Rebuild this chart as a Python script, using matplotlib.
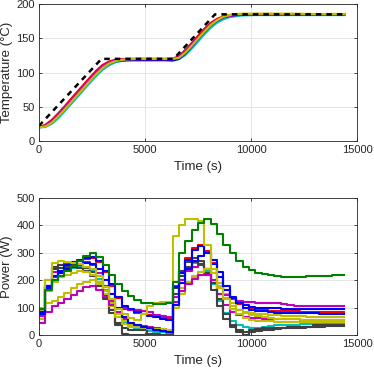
import numpy as np
import matplotlib.pyplot as plt

plt.rcParams['font.family'] = ['Liberation Sans', 'DejaVu Sans']

# ---- temperature data (s, degC)
t_temp = [0, 300, 600, 900, 1200, 1500, 1800, 2100, 2400, 2700, 3000, 3300, 3600, 3900, 4200,
          4800, 5400, 6000, 6300, 6600, 6900, 7200, 7500, 7800, 8100, 8400, 8700, 9000, 9300,
          9600, 10200, 11000, 12000, 13000, 14400]
temp_red = [20, 23.5, 30.5, 40, 50, 61, 71.5, 82, 92.5, 102.5, 111, 116, 118.5, 119.5, 120, 120, 120, 120,
            120, 124, 133, 143, 153.5, 164, 172.5, 178.5, 182, 184, 184.5, 185, 185.5, 185.5, 185, 185, 185]
temp_magenta = [20, 22.5, 29, 38.5, 48.5, 59, 69.5, 80, 90.5, 100.5, 109.5, 115, 118, 119, 119.5, 119.5, 119.5, 119.5,
                119.5, 122.5, 131, 141, 151.5, 162, 171, 177, 181, 183, 184, 184.5, 185, 185, 185, 185, 185]
temp_blue = [20, 21.5, 27, 36, 46, 56.5, 67, 77.5, 88, 98, 107, 113, 116.5, 117.5, 118, 118, 118, 118,
             117.5, 120, 128, 138, 149, 159.5, 169, 176, 180.5, 183, 184, 184.5, 185, 185, 185, 185, 185]
temp_cyan = [20, 20.5, 25, 33, 43, 53.5, 64, 74.5, 85, 95, 104, 110.5, 115, 117, 118, 118.5, 119, 119,
             119, 119.5, 125.5, 135, 145.5, 156, 165.5, 173, 178, 181, 182.5, 183.5, 184, 184, 184, 184, 184]
temp_yellow = [20, 21, 26.5, 35.5, 45.5, 56, 66.5, 77, 87.5, 97.5, 106.5, 113, 116.5, 118.5, 119.5, 120, 120, 120,
               120, 121.5, 129, 139, 149.5, 160, 169.5, 176.5, 181.5, 184, 185.5, 186, 186, 186, 186, 185.5, 185.5]

# setpoint profile
t_set = [0, 2950, 6350, 8300, 14400]
temp_set = [22, 120, 120, 185, 185]

# ---- power data (W), one value every 300 s from 0 to 14400
t_pow = list(range(0, 14401, 300))
p_green = [95, 165, 200, 215, 232, 252, 272, 288, 298, 285, 255, 220, 188, 162, 142, 127, 118, 115, 112, 114,
           117, 195, 300, 345, 385, 408, 425, 405, 368, 330, 298, 270, 250, 238, 228, 222, 218, 216, 213, 210,
           211, 213, 214, 215, 215, 216, 218, 220, 220]
p_magenta1 = [45, 85, 105, 115, 130, 145, 160, 175, 178, 163, 140, 110, 100, 95, 92, 90, 88, 85, 72, 68,
              66, 120, 160, 185, 205, 218, 220, 200, 170, 145, 130, 125, 122, 120, 118, 116, 115, 115, 113, 108,
              107, 106, 106, 105, 105, 105, 105, 105, 105]
p_blue1 = [85, 180, 215, 235, 255, 265, 275, 282, 285, 270, 235, 185, 140, 105, 95, 85, 75, 70, 66, 60,
           55, 175, 225, 275, 310, 325, 300, 260, 210, 165, 135, 118, 108, 102, 100, 98, 97, 97, 96, 96,
           95, 95, 95, 95, 94, 94, 95, 95, 95]
p_red = [88, 175, 210, 230, 250, 262, 272, 278, 280, 265, 230, 180, 135, 100, 90, 82, 76, 72, 68, 62,
         58, 180, 230, 280, 318, 330, 305, 262, 212, 165, 130, 112, 100, 95, 92, 90, 89, 88, 87, 86,
         86, 85, 85, 85, 85, 85, 85, 85, 85]
p_blue2 = [75, 170, 200, 225, 240, 250, 258, 262, 260, 240, 200, 150, 100, 65, 45, 35, 30, 25, 20, 15,
           10, 110, 190, 240, 270, 290, 300, 275, 230, 180, 140, 115, 100, 92, 88, 86, 84, 82, 82, 80,
           80, 80, 79, 79, 78, 78, 78, 78, 78]
p_yellow1 = [100, 200, 262, 270, 265, 262, 258, 250, 240, 215, 175, 130, 95, 75, 62, 55, 75, 105, 118, 120,
             120, 360, 400, 425, 425, 418, 330, 240, 170, 130, 105, 92, 85, 80, 78, 75, 73, 72, 70, 70,
             68, 68, 67, 67, 66, 66, 65, 65, 65]
p_yellow2 = [60, 160, 195, 210, 220, 228, 232, 230, 220, 195, 160, 115, 75, 50, 38, 32, 28, 25, 22, 22,
             20, 100, 150, 185, 210, 230, 240, 225, 190, 150, 115, 92, 80, 72, 68, 64, 62, 60, 58, 58,
             57, 56, 56, 55, 55, 55, 55, 55, 55]
p_yellow3 = [90, 115, 125, 140, 155, 170, 185, 195, 200, 185, 150, 105, 65, 40, 30, 28, 25, 22, 20, 18,
             15, 110, 170, 195, 215, 230, 240, 225, 180, 135, 95, 75, 62, 55, 52, 50, 50, 49, 49, 48,
             48, 48, 48, 48, 48, 48, 48, 48, 48]
p_gray1 = [80, 200, 250, 255, 255, 258, 255, 245, 230, 195, 145, 90, 35, 5, 0, 0, 0, 0, 0, 0,
           0, 170, 235, 265, 280, 270, 240, 190, 130, 75, 35, 10, 0, 10, 15, 18, 20, 22, 24, 25,
           26, 27, 28, 29, 30, 31, 32, 33, 33]
p_gray2 = [60, 180, 240, 245, 248, 250, 245, 235, 215, 180, 130, 80, 45, 25, 20, 20, 18, 5, 2, 0,
           0, 150, 215, 250, 265, 258, 225, 165, 105, 60, 30, 20, 12, 20, 22, 24, 25, 26, 27, 28,
           28, 28, 30, 35, 37, 38, 38, 38, 38]
p_cyan = [70, 170, 215, 230, 240, 245, 248, 245, 235, 205, 165, 115, 75, 45, 30, 22, 18, 15, 12, 10,
          8, 120, 200, 245, 262, 260, 235, 185, 125, 80, 50, 35, 28, 25, 25, 30, 32, 35, 36, 38,
          38, 39, 40, 40, 40, 40, 42, 42, 42]
p_magenta2 = [70, 180, 230, 255, 262, 268, 272, 268, 255, 225, 180, 125, 85, 60, 45, 38, 32, 28, 25, 22,
              20, 140, 200, 235, 250, 255, 240, 200, 150, 110, 85, 72, 66, 63, 62, 60, 59, 58, 58, 57,
              57, 56, 56, 56, 56, 56, 56, 56, 56]

c_blue = (0, 0, 1)
c_green = (0, 0.5, 0)
c_red = (1, 0, 0)
c_cyan = (0, 0.75, 0.75)
c_mag = (0.75, 0, 0.75)
c_yel = (0.75, 0.75, 0)
c_gray = (0.25, 0.25, 0.25)
axcol = (0.15, 0.15, 0.15)

fig = plt.figure(figsize=(3.74, 3.72), dpi=100)
ax1 = fig.add_axes([0.104, 0.621, 0.851, 0.368])
ax2 = fig.add_axes([0.104, 0.0995, 0.851, 0.368])

# top: temperature
ax1.plot(t_temp, temp_cyan, color=c_cyan, lw=1.6)
ax1.plot(t_temp, temp_blue, color=c_blue, lw=1.6)
ax1.plot(t_temp, temp_red, color=c_red, lw=1.6)
ax1.plot(t_temp, temp_magenta, color=c_mag, lw=1.6)
ax1.plot(t_temp, temp_yellow, color=c_yel, lw=1.6)
ax1.plot(t_set, temp_set, color='k', lw=1.8, dashes=(2.2, 2))
ax1.set_ylim(0, 200)
ax1.set_yticks([0, 50, 100, 150, 200])
ax1.set_ylabel('Temperature (°C)')

# bottom: power (stairs)
series = [(p_cyan, c_cyan), (p_red, c_red), (p_magenta2, c_mag), (p_gray2, c_gray),
          (p_gray1, c_gray), (p_yellow3, c_yel), (p_yellow2, c_yel), (p_magenta1, c_mag),
          (p_blue2, c_blue), (p_blue1, c_blue), (p_yellow1, c_yel), (p_green, c_green)]
for vals, col in series:
    ax2.step(t_pow, vals, where='post', color=col, lw=1.5)
ax2.set_ylim(0, 500)
ax2.set_yticks([0, 100, 200, 300, 400, 500])
ax2.set_ylabel('Power (W)')

for ax in (ax1, ax2):
    ax.set_xlim(0, 15000)
    ax.set_xticks([0, 5000, 10000, 15000])
    ax.set_xlabel('Time (s)', color=axcol, fontsize=9.5)
    ax.yaxis.label.set_color(axcol)
    ax.yaxis.label.set_fontsize(9.5)
    ax.yaxis.set_label_coords(-0.08, 0.5)
    ax.grid(True, color=(0.88, 0.88, 0.88), lw=0.6)
    ax.set_axisbelow(True)
    ax.tick_params(direction='in', length=2.5, width=0.6, top=True, right=True,
                   colors=axcol, labelsize=8, pad=3)
    for sp in ax.spines.values():
        sp.set_color(axcol)
        sp.set_linewidth(0.6)

fig.savefig('out.png', dpi=100)
